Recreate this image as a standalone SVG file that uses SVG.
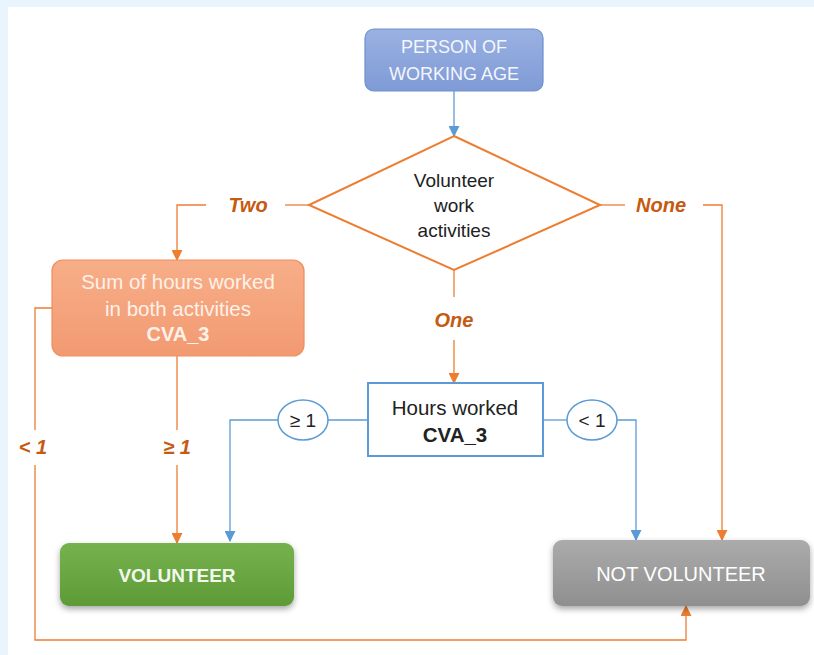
<svg xmlns="http://www.w3.org/2000/svg" width="814" height="655" viewBox="0 0 814 655">
<defs>
<style>
text{font-family:"Liberation Sans",Arial,sans-serif;text-anchor:middle;dominant-baseline:central}
.o{stroke:#ED7D31;stroke-width:1.3;fill:none}
.b{stroke:#5B9BD5;stroke-width:1.3;fill:none}
.lab{fill:#C55A11;font-weight:bold;font-style:italic;font-size:20px}
.w{fill:#FFFFFF;font-size:18px}
.dk{fill:#222;font-size:19px}
</style>
<marker id="ao" viewBox="0 0 10 10" refX="9" refY="5" markerWidth="11" markerHeight="11" markerUnits="userSpaceOnUse" orient="auto"><path d="M0,0L10,5L0,10z" fill="#ED7D31"/></marker>
<marker id="ab" viewBox="0 0 10 10" refX="9" refY="5" markerWidth="11" markerHeight="11" markerUnits="userSpaceOnUse" orient="auto"><path d="M0,0L10,5L0,10z" fill="#5B9BD5"/></marker>
<linearGradient id="gBlue" x1="0" y1="0" x2="0" y2="1"><stop offset="0" stop-color="#9AB1E2"/><stop offset="1" stop-color="#7F9BD6"/></linearGradient>
<linearGradient id="gSal" x1="0" y1="0" x2="0" y2="1"><stop offset="0" stop-color="#F7AE88"/><stop offset="1" stop-color="#F29A72"/></linearGradient>
<linearGradient id="gGreen" x1="0" y1="0" x2="0" y2="1"><stop offset="0" stop-color="#76B24D"/><stop offset="1" stop-color="#5E9B37"/></linearGradient>
<linearGradient id="gGray" x1="0" y1="0" x2="0" y2="1"><stop offset="0" stop-color="#ABABAB"/><stop offset="1" stop-color="#8F8F8F"/></linearGradient>
<filter id="sh" x="-10%" y="-20%" width="120%" height="150%"><feDropShadow dx="0" dy="3" stdDeviation="3" flood-color="#000" flood-opacity="0.35"/></filter>
</defs>
<rect x="0" y="0" width="814" height="655" fill="#EAF4FD"/>
<rect x="8" y="7" width="806" height="648" fill="#FFFFFF"/>

<g id="connectors">
<line class="b" x1="454" y1="91" x2="454" y2="136" marker-end="url(#ab)"/>
<polyline class="o" points="309,205 285,205"/>
<polyline class="o" points="206,205 177,205 177,260" marker-end="url(#ao)"/>
<polyline class="o" points="600,205 625,205"/>
<polyline class="o" points="703,205 722,205 722,540" marker-end="url(#ao)"/>
<line class="o" x1="454" y1="270" x2="454" y2="297"/>
<line class="o" x1="454" y1="340" x2="454" y2="383" marker-end="url(#ao)"/>
<polyline class="o" points="52,308 35,308 35,430"/>
<polyline class="o" points="35,465 35,640 686,640 686,606" marker-end="url(#ao)"/>
<line class="o" x1="177" y1="356" x2="177" y2="430"/>
<line class="o" x1="177" y1="465" x2="177" y2="543" marker-end="url(#ao)"/>
<line class="b" x1="368" y1="420" x2="328" y2="420"/>
<polyline class="b" points="278,420 230,420 230,541" marker-end="url(#ab)"/>
<line class="b" x1="543" y1="420" x2="567" y2="420"/>
<polyline class="b" points="617,420 636,420 636,540" marker-end="url(#ab)"/>
<text class="lab" x="248" y="205">Two</text>
<text class="lab" x="661" y="205">None</text>
<text class="lab" x="454" y="320">One</text>
<text class="lab" x="33" y="447">&lt; 1</text>
<text class="lab" x="177" y="447">≥ 1</text>
</g>

<g id="person">
<rect x="365" y="29" width="178" height="62" rx="9" fill="url(#gBlue)" stroke="#6F8FCF" stroke-width="1.2"/>
<text class="w" x="454" y="47" style="fill:#F4F6FC">PERSON OF</text>
<text class="w" x="454" y="74" style="fill:#F4F6FC">WORKING AGE</text>
</g>

<g id="decision">
<polygon points="454,136 600,205 454,270 309,205" fill="#FFFFFF" stroke="#ED7D31" stroke-width="2"/>
<text class="dk" x="454" y="180">Volunteer</text>
<text class="dk" x="454" y="205">work</text>
<text class="dk" x="454" y="230">activities</text>
</g>

<g id="sum">
<rect x="52" y="260" width="252" height="96" rx="11" fill="url(#gSal)" stroke="#F08E5C" stroke-width="1.2"/>
<text class="w" x="178" y="281" style="font-size:20.5px;fill:#FEF1E8">Sum of hours worked</text>
<text class="w" x="178" y="308" style="font-size:20.5px;fill:#FEF1E8">in both activities</text>
<text class="w" x="178" y="334" style="font-size:20px;font-weight:bold;fill:#FEF1E8">CVA_3</text>
</g>

<g id="hours">
<rect x="368" y="383" width="175" height="73" fill="#FFFFFF" stroke="#5B9BD5" stroke-width="2"/>
<text class="dk" x="455" y="407" style="font-size:20.5px">Hours worked</text>
<text class="dk" x="455" y="434" style="font-size:20.5px;font-weight:bold">CVA_3</text>
</g>

<g id="ge1">
<ellipse cx="303" cy="420" rx="25" ry="20" fill="#FFFFFF" stroke="#5B9BD5" stroke-width="1.5"/>
<text class="dk" x="303" y="420">≥ 1</text>
</g>

<g id="lt1">
<ellipse cx="592" cy="420" rx="25" ry="20" fill="#FFFFFF" stroke="#5B9BD5" stroke-width="1.5"/>
<text class="dk" x="592" y="420">&lt; 1</text>
</g>

<g id="volunteer">
<rect x="60" y="543" width="234" height="63" rx="9" fill="url(#gGreen)" filter="url(#sh)"/>
<text class="w" x="177" y="575" style="font-size:19px;font-weight:bold;fill:#F2F8EE">VOLUNTEER</text>
</g>

<g id="notvolunteer">
<rect x="553" y="540" width="257" height="66" rx="9" fill="url(#gGray)" filter="url(#sh)"/>
<text class="w" x="681" y="574" style="font-size:20px">NOT VOLUNTEER</text>
</g>
</svg>
